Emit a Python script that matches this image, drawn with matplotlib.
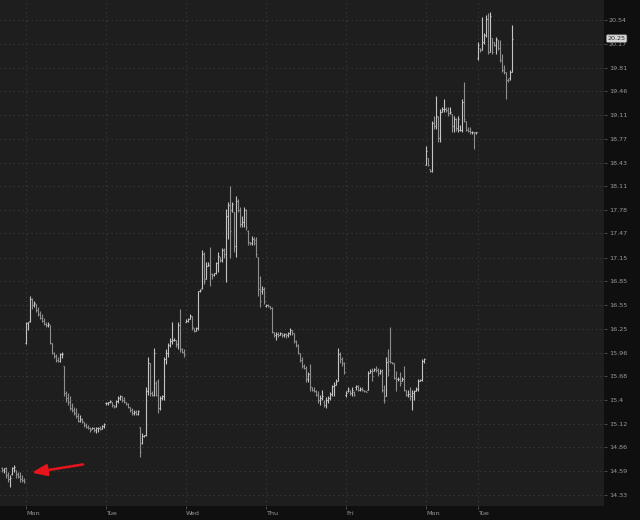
import numpy as np
import matplotlib
matplotlib.use('Agg')
from matplotlib import pyplot as plt
from matplotlib.ticker import FixedLocator, FixedFormatter, NullLocator
import matplotlib.transforms as mtransforms

# (open, high, low, close) per bar, one list per session
fri0 = [(14.62,14.64,14.58,14.60),(14.60,14.63,14.57,14.62),(14.62,14.64,14.52,14.55),(14.55,14.58,14.47,14.50),
        (14.50,14.55,14.42,14.52),(14.56,14.64,14.55,14.62),(14.62,14.66,14.58,14.64),(14.60,14.60,14.52,14.56),
        (14.56,14.58,14.51,14.53),(14.54,14.58,14.47,14.50),(14.50,14.55,14.47,14.49),(14.49,14.51,14.46,14.48)]

mon1 = [(16.08,16.34,16.06,16.32),(16.32,16.34,16.24,16.33),(16.35,16.66,16.34,16.62),(16.62,16.63,16.50,16.55),
        (16.55,16.60,16.52,16.57),(16.56,16.56,16.46,16.49),(16.49,16.52,16.41,16.43),(16.44,16.47,16.37,16.39),
        (16.39,16.43,16.33,16.35),(16.35,16.39,16.30,16.31),(16.31,16.34,16.28,16.30),(16.30,16.33,16.28,16.31),
        (16.30,16.30,16.06,16.08),(16.08,16.08,15.94,15.96),(15.96,15.97,15.90,15.92),(15.92,15.94,15.85,15.87),
        (15.87,15.91,15.85,15.86),(15.86,15.96,15.85,15.94),(15.94,15.97,15.90,15.95),(15.80,15.80,15.44,15.48),
        (15.48,15.50,15.38,15.42),(15.42,15.48,15.34,15.37),(15.37,15.44,15.28,15.31),(15.31,15.36,15.26,15.28),
        (15.28,15.32,15.23,15.25),(15.25,15.31,15.19,15.21),(15.21,15.25,15.14,15.16),(15.16,15.23,15.14,15.18),
        (15.18,15.19,15.13,15.15),(15.14,15.14,15.09,15.11),(15.11,15.13,15.08,15.09),(15.09,15.11,15.06,15.08),
        (15.08,15.09,15.03,15.05),(15.06,15.09,15.06,15.08),(15.08,15.09,15.03,15.05),(15.05,15.09,15.02,15.07),
        (15.07,15.09,15.03,15.08),(15.08,15.10,15.05,15.06),(15.06,15.11,15.06,15.10),(15.10,15.13,15.08,15.12)]

tue1 = [(15.36,15.38,15.34,15.36),(15.36,15.38,15.34,15.37),(15.37,15.40,15.36,15.39),(15.37,15.38,15.32,15.34),
        (15.34,15.34,15.31,15.32),(15.33,15.40,15.32,15.39),(15.39,15.44,15.36,15.42),(15.42,15.46,15.40,15.44),
        (15.44,15.44,15.38,15.40),(15.40,15.43,15.36,15.37),(15.37,15.38,15.34,15.35),(15.35,15.36,15.31,15.32),
        (15.32,15.32,15.26,15.28),(15.28,15.31,15.23,15.25),(15.25,15.28,15.23,15.26),(15.26,15.28,15.23,15.24),
        (15.24,15.28,15.23,15.27),(15.09,15.09,14.75,14.80),(14.90,15.02,14.89,14.98),(14.98,15.00,14.97,14.99),
        (14.99,15.55,14.98,15.50),(15.50,15.91,15.46,15.84),(15.84,15.84,15.44,15.48),(15.48,15.50,15.44,15.46),
        (15.46,16.02,15.44,15.96),(15.60,15.62,15.44,15.46),(15.62,15.64,15.25,15.30),(15.30,15.44,15.28,15.42),
        (15.42,15.46,15.40,15.44),(15.44,15.91,15.40,15.88),(15.88,16.00,15.82,15.96),(15.96,16.08,15.91,16.05),
        (16.05,16.14,16.03,16.10),(16.10,16.33,16.06,16.12),(16.12,16.14,16.10,16.12),(16.12,16.12,16.03,16.06),
        (16.06,16.33,16.00,16.30),(16.30,16.50,15.97,16.00),(16.00,16.02,15.96,15.97),(15.97,16.00,15.91,15.94)]

wed1 = [(16.34,16.37,16.33,16.35),(16.35,16.39,16.34,16.37),(16.37,16.43,16.37,16.41),(16.41,16.41,16.24,16.27),
        (16.26,16.26,16.21,16.23),(16.23,16.28,16.23,16.26),(16.26,16.73,16.24,16.72),(16.72,16.75,16.71,16.74),
        (16.76,17.25,16.75,17.20),(17.20,17.23,16.81,16.85),(16.88,17.09,16.88,17.05),(17.05,17.09,17.04,17.06),
        (17.06,17.29,16.79,16.94),(16.94,16.96,16.88,16.93),(16.93,16.96,16.92,16.95),(16.95,17.10,16.94,17.08),
        (17.08,17.22,16.97,17.18),(17.16,17.16,17.09,17.12),(17.12,17.28,17.10,17.25),(17.25,17.28,17.15,17.20),
        (17.20,17.79,16.84,17.70),(17.70,17.89,17.39,17.85),(17.85,18.11,17.15,17.50),(17.78,17.89,17.75,17.86),
        (17.75,17.75,17.23,17.30),(17.30,17.97,17.16,17.90),(17.90,17.93,17.75,17.78),(17.78,17.83,17.55,17.60),
        (17.60,17.70,17.55,17.62),(17.62,17.83,17.55,17.78),(17.78,17.79,17.52,17.55),(17.50,17.52,17.32,17.36),
        (17.36,17.36,17.32,17.34),(17.34,17.43,17.32,17.40),(17.40,17.42,17.32,17.35),(17.38,17.42,17.16,17.20),
        (17.16,17.16,16.66,16.75),(16.75,16.91,16.52,16.60),(16.72,16.79,16.69,16.75),(16.75,16.78,16.56,16.60)]

thu1 = [(16.54,16.56,16.52,16.55),(16.55,16.56,16.52,16.53),(16.53,16.54,16.50,16.51),(16.51,16.52,16.20,16.21),
        (16.21,16.21,16.15,16.18),(16.18,16.21,16.12,16.19),(16.19,16.21,16.15,16.18),(16.18,16.21,16.18,16.20),
        (16.20,16.20,16.15,16.17),(16.17,16.20,16.15,16.19),(16.19,16.20,16.14,16.17),(16.17,16.21,16.15,16.20),
        (16.20,16.26,16.18,16.24),(16.24,16.24,16.18,16.20),(16.20,16.20,16.08,16.10),(16.10,16.12,16.03,16.05),
        (16.05,16.06,15.94,15.96),(15.96,15.96,15.85,15.87),(15.87,15.91,15.78,15.80),(15.80,15.82,15.76,15.78),
        (15.78,15.80,15.61,15.64),(15.64,15.73,15.61,15.70),(15.70,15.82,15.50,15.55),(15.55,15.55,15.50,15.52),
        (15.52,15.55,15.49,15.50),(15.50,15.52,15.44,15.46),(15.46,15.50,15.36,15.40),(15.40,15.46,15.34,15.42),
        (15.42,15.52,15.40,15.44),(15.38,15.40,15.32,15.34),(15.34,15.43,15.31,15.40),(15.40,15.44,15.36,15.42),
        (15.42,15.49,15.40,15.47),(15.47,15.58,15.45,15.56),(15.56,15.61,15.44,15.58),(15.58,15.64,15.58,15.62),
        (15.62,16.02,15.62,15.95),(15.95,15.97,15.84,15.88),(15.88,15.91,15.80,15.84),(15.84,15.85,15.70,15.73)]

fri1 = [(15.46,15.50,15.43,15.48),(15.50,15.55,15.49,15.53),(15.50,15.52,15.46,15.48),(15.48,15.55,15.44,15.52),
        (15.49,15.50,15.44,15.46),(15.55,15.58,15.52,15.56),(15.56,15.58,15.50,15.52),(15.52,15.55,15.50,15.53),
        (15.53,15.55,15.50,15.51),(15.51,15.52,15.49,15.50),(15.50,15.50,15.49,15.49),(15.52,15.74,15.52,15.72),
        (15.72,15.76,15.72,15.74),(15.74,15.78,15.62,15.68),(15.74,15.78,15.74,15.76),(15.76,15.80,15.73,15.75),
        (15.75,15.78,15.68,15.72),(15.72,15.76,15.70,15.74),(15.74,15.76,15.49,15.52),(15.52,15.58,15.36,15.40),
        (15.45,15.91,15.44,15.85),(15.85,16.00,15.68,15.75),(15.86,16.28,15.84,15.85),(15.85,15.85,15.82,15.84),
        (15.84,15.84,15.64,15.66),(15.66,15.74,15.50,15.64),(15.64,15.67,15.62,15.64),(15.64,15.73,15.56,15.60),
        (15.62,15.67,15.62,15.64),(15.64,15.80,15.50,15.52),(15.52,15.52,15.44,15.46),(15.46,15.52,15.43,15.47),
        (15.47,15.55,15.40,15.45),(15.45,15.52,15.28,15.48),(15.48,15.52,15.40,15.50),(15.50,15.55,15.50,15.53),
        (15.53,15.64,15.50,15.62),(15.62,15.64,15.62,15.63),(15.63,15.88,15.62,15.86),(15.86,15.90,15.84,15.88)]

mon2 = [(18.40,18.67,18.40,18.60),(18.50,18.50,18.38,18.40),(18.34,18.34,18.30,18.32),(18.32,19.03,18.30,19.00),
        (19.00,19.10,18.91,18.95),(18.95,19.39,18.91,19.10),(19.08,19.10,18.73,18.78),(18.78,19.20,18.73,19.16),
        (19.16,19.23,19.16,19.20),(19.20,19.34,19.16,19.20),(19.20,19.23,19.16,19.18),(19.18,19.23,19.10,19.14),
        (19.14,19.23,19.12,19.16),(19.12,19.12,18.87,18.95),(18.95,19.10,18.87,19.05),(19.05,19.06,18.88,18.92),
        (18.92,19.10,18.87,19.05),(18.90,18.96,18.88,18.90),(18.90,19.34,18.87,19.30),(19.30,19.59,19.01,19.05),
        (19.03,19.03,18.88,18.90),(18.90,18.94,18.87,18.88),(18.88,18.94,18.84,18.86),(18.86,18.88,18.84,18.86),
        (18.86,18.87,18.62,18.85),(18.86,18.87,18.84,18.86)]

tue2 = [(19.95,20.19,19.93,20.15),(20.10,20.11,20.05,20.08),(20.08,20.59,20.08,20.20),(20.20,20.34,20.16,20.30),
        (20.30,20.62,20.28,20.55),(20.55,20.65,20.01,20.05),(20.05,20.66,20.04,20.60),(20.26,20.26,20.01,20.05),
        (20.20,20.20,20.13,20.15),(20.15,20.28,20.01,20.25),(20.23,20.23,20.08,20.10),(20.10,20.23,19.90,19.93),
        (19.93,20.01,19.75,19.78),(19.78,19.85,19.71,19.75),(19.75,19.75,19.34,19.63),(19.63,19.66,19.59,19.62),
        (19.66,19.78,19.63,19.75),(19.75,20.46,19.75,20.25)]

sessions = [mon1, tue1, wed1, thu1, fri1, mon2, tue2]
day_names = ['Mon', 'Tue', 'Wed', 'Thu', 'Fri', 'Mon', 'Tue']
price_ticks = [14.33, 14.59, 14.86, 15.12, 15.4, 15.68, 15.96, 16.25, 16.55, 16.85, 17.15,
               17.47, 17.78, 18.11, 18.43, 18.77, 19.11, 19.46, 19.81, 20.17, 20.54]

bars = []
day_start = []
for s in sessions:
    day_start.append(len(bars))
    bars += s
bars = np.array(fri0 + bars)
x = np.arange(len(bars)) - len(fri0)
o, h, l, c = bars[:, 0], bars[:, 1], bars[:, 2], bars[:, 3]

fig = plt.figure(figsize=(6.4, 5.2), dpi=100, facecolor='#0f0f0f')
ax = fig.add_axes([0, 14/520, 604/640, 506/520])
ax.set_facecolor('#1e1e1e')

up = c >= o
cols = np.where(up, '#c4c4c4', '#8e8e8e')
ax.vlines(x, l, h, colors=cols, linewidth=0.8)
ax.hlines(o, x - 0.55, x, colors=cols, linewidth=0.8)
ax.hlines(c, x, x + 0.55, colors=cols, linewidth=0.8)

ax.set_yscale('log')
ax.set_ylim(14.21, 20.85)
ax.set_xlim(-13, 289)

ax.yaxis.tick_right()
ax.yaxis.set_major_locator(FixedLocator(price_ticks))
ax.yaxis.set_major_formatter(FixedFormatter([('%.2f' % v).rstrip('0') if v == 15.4 else '%.2f' % v for v in price_ticks]))
ax.yaxis.set_minor_locator(NullLocator())
ax.set_xticks(day_start)
ax.set_xticklabels(day_names)
for t in ax.get_xticklabels():
    t.set_horizontalalignment('left')

ax.tick_params(axis='y', direction='out', length=2.5, width=0.6, color='#555555',
               labelcolor='#9a9a9a', labelsize=4.6, pad=1)
ax.tick_params(axis='x', direction='out', length=2, width=0.6, color='#555555',
               labelcolor='#9a9a9a', labelsize=4.6, pad=1.5)
for sp in ax.spines.values():
    sp.set_visible(False)

ax.grid(True, color='#3c3c3c', linestyle=(0, (1, 3)), linewidth=0.8)
ax.set_axisbelow(True)

# last price tag
trans = mtransforms.blended_transform_factory(ax.transAxes, ax.transData)
ax.text(1.006, c[-1], '%.2f' % c[-1], transform=trans, ha='left', va='center',
        fontsize=4.6, color='#2a2a2a', clip_on=False,
        bbox=dict(boxstyle='round,pad=0.2', fc='#d6d6d6', ec='#777777', lw=0.4))

# red arrow
ax.annotate('', xy=(0.048, 0.065), xytext=(0.142, 0.083), xycoords='axes fraction',
            arrowprops=dict(arrowstyle='-|>,head_length=0.9,head_width=0.35', color='#e8141c', lw=1.8))

fig.savefig('out.png', dpi=100, facecolor=fig.get_facecolor())
